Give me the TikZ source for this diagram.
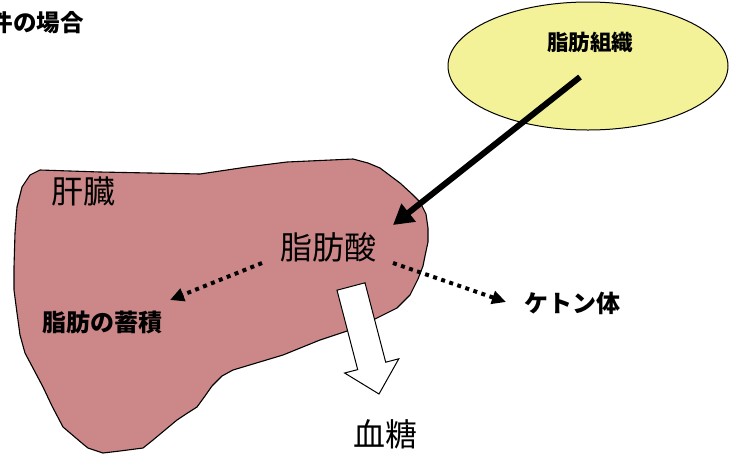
\documentclass[tikz,border=0pt]{standalone}
\usepackage{fontspec}
\newfontfamily\jp{Noto Sans CJK JP}
\usetikzlibrary{arrows.meta,shapes.geometric}
\definecolor{liverfill}{RGB}{204,136,136}
\definecolor{tissuefill}{RGB}{244,242,152}
\begin{document}
\begin{tikzpicture}[x=1pt,y=-1pt,
  lbl/.style={inner sep=0pt},
  big/.style={lbl,font={\jp\fontsize{32}{36}\selectfont}},
  mid/.style={lbl,font={\jp\bfseries\fontsize{24}{28}\selectfont}},
  small/.style={lbl,font={\jp\bfseries\fontsize{21.5}{26}\selectfont}},
  captionfont/.style={lbl,font={\jp\bfseries\fontsize{23.5}{28}\selectfont}},
  organ/.style={draw=black,line width=1.1pt,line join=round},
  influx/.style={line width=6pt,-{Triangle[length=20pt,width=22pt]}},
  pathway/.style={line width=4pt,dash pattern=on 4pt off 4.5pt,
                  -{Triangle[length=14pt,width=13pt]}},
  hollow/.style={draw=black,fill=white,line width=1pt,line join=miter}]
\useasboundingbox (0,0) rectangle (729,456);
\clip (0,0) rectangle (729,456);

% caption (runs off the left edge)
\node[captionfont,anchor=east] (cap) at (84,23) {件の場合};

% adipose tissue
\node[draw=black,line width=1pt,fill=tissuefill,ellipse,
      minimum width=280pt,minimum height=128pt,inner sep=0pt] (tissue) at (588,66) {};
\node[small] (tissuelbl) at (590,42) {脂肪組織};

% liver outline
\path[organ,fill=liverfill]
  (40,170) -- (100,172) -- (200,174) -- (247,167) -- (287,162) -- (353,159)
  -- (368,163) -- (380,168) -- (392,177) -- (400,183) -- (412,194) -- (420,202)
  -- (426,214) -- (428,228) -- (428,242) -- (425,256) -- (423,266) -- (418,279)
  -- (410,295) -- (397,308) -- (385,314) -- (373,320) -- (350,330) -- (320,340)
  -- (283,355) -- (233,370) -- (222,376) -- (212,386) -- (205,396) -- (197,407)
  -- (186,414) -- (177,420) -- (165,430) -- (153,440) -- (143,448) -- (120,451)
  -- (103,453) -- (88,448) -- (83,444) -- (63,427) -- (52,406) -- (43,387)
  -- (25,353) -- (20,335) -- (17,313) -- (14,290) -- (14,267) -- (15,233)
  -- (17,207) -- (22,187) -- (30,175) -- cycle;

% labels inside and around the liver
\node[big] (liver) at (83,191) {肝臓};
\node[big] (fa) at (328,247) {脂肪酸};
\node[mid] (store) at (102,322) {脂肪の蓄積};
\node[mid] (ketone) at (572,303) {ケトン体};
\node[big] (glucose) at (385,434) {血糖};

% connector end points
\coordinate (tissueout) at (580,77);
\coordinate (fain) at (393,225);
\coordinate (faleft) at (262,263);
\coordinate (storein) at (170,300);
\coordinate (faright) at (393,263);
\coordinate (ketonein) at (506,302);

% fatty acids released from adipose tissue into the liver
\draw[influx] (tissueout) -- (fain);

% metabolic routes of fatty acids
\draw[pathway] (faleft) -- (storein);
\draw[pathway] (faright) -- (ketonein);

% conversion towards blood glucose (block arrow)
\draw[hollow] (337.0,290.2) -- (365.0,282.8) -- (385.7,362.2) -- (398.8,358.8)
  -- (379,394) -- (344.6,373.0) -- (357.7,369.6) -- cycle;
\end{tikzpicture}
\end{document}
